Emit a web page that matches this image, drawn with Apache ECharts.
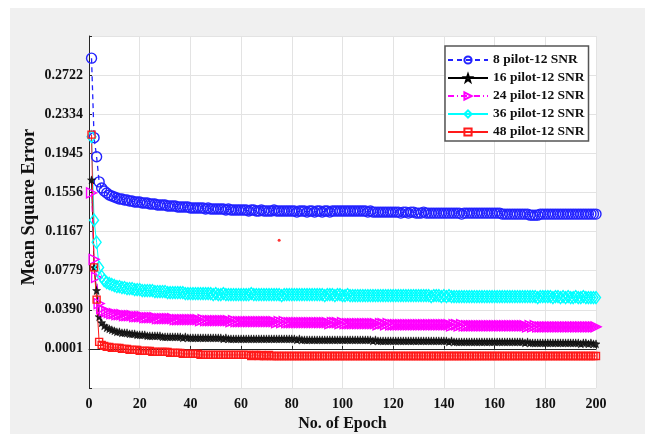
<!DOCTYPE html>
<html>
<head>
<meta charset="utf-8">
<script src="https://cdn.jsdelivr.net/npm/echarts@6/dist/echarts.min.js"></script>
<style>
  html, body { margin: 0; padding: 0; background: #fff; }
  #panel { position: absolute; left: 10px; top: 8px; width: 635px; height: 426px; background: #f0f0f0; }
  #chart { position: absolute; left: 0; top: 0; width: 645px; height: 437px; }
</style>
</head>
<body>
<div id="panel"></div>
<div id="chart"></div>
<script>
// series names as in the legend
const seriesNames = ['8 pilot-12 SNR', '16 pilot-12 SNR', '24 pilot-12 SNR', '36 pilot-12 SNR', '48 pilot-12 SNR'];

// y tick labels printed on the figure (axis runs from one step below 0.0001 to one step above 0.2722)
const yTickLabels = ['0.0001', '0.0390', '0.0779', '0.1167', '0.1556', '0.1945', '0.2334', '0.2722'];

// MSE per epoch (epoch 1..200)
const pilot8 = [
  0.289, 0.210, 0.191, 0.166, 0.160, 0.157, 0.155, 0.153, 0.152, 0.151,
  0.150, 0.149, 0.149, 0.148, 0.148, 0.147, 0.147, 0.146, 0.146, 0.146,
  0.145, 0.145, 0.145, 0.144, 0.144, 0.144, 0.143, 0.143, 0.143, 0.143,
  0.142, 0.142, 0.142, 0.142, 0.141, 0.141, 0.141, 0.141, 0.141, 0.140,
  0.140, 0.140, 0.140, 0.140, 0.140, 0.139, 0.140, 0.139, 0.139, 0.139,
  0.139, 0.139, 0.139, 0.138, 0.139, 0.138, 0.138, 0.138, 0.138, 0.138,
  0.138, 0.138, 0.137, 0.138, 0.138, 0.137, 0.137, 0.138, 0.137, 0.137,
  0.137, 0.137, 0.138, 0.137, 0.137, 0.137, 0.137, 0.137, 0.137, 0.137,
  0.137, 0.136, 0.137, 0.137, 0.137, 0.136, 0.137, 0.137, 0.136, 0.137,
  0.137, 0.136, 0.137, 0.137, 0.136, 0.137, 0.137, 0.137, 0.137, 0.137,
  0.137, 0.137, 0.137, 0.137, 0.137, 0.137, 0.137, 0.137, 0.137, 0.136,
  0.137, 0.136, 0.136, 0.136, 0.136, 0.136, 0.136, 0.136, 0.136, 0.136,
  0.136, 0.136, 0.135, 0.136, 0.136, 0.135, 0.136, 0.136, 0.135, 0.135,
  0.135, 0.136, 0.135, 0.135, 0.135, 0.135, 0.135, 0.135, 0.135, 0.135,
  0.135, 0.135, 0.135, 0.135, 0.135, 0.135, 0.134, 0.135, 0.135, 0.135,
  0.135, 0.135, 0.135, 0.135, 0.135, 0.135, 0.135, 0.135, 0.135, 0.135,
  0.135, 0.135, 0.134, 0.134, 0.134, 0.134, 0.134, 0.134, 0.134, 0.134,
  0.134, 0.134, 0.134, 0.133, 0.133, 0.133, 0.133, 0.134, 0.134, 0.134,
  0.134, 0.134, 0.134, 0.134, 0.134, 0.134, 0.134, 0.134, 0.134, 0.134,
  0.134, 0.134, 0.134, 0.134, 0.134, 0.134, 0.134, 0.134, 0.134, 0.134
];
const pilot16 = [
  0.168, 0.081, 0.058, 0.032, 0.026, 0.023, 0.021, 0.020, 0.019, 0.018,
  0.017, 0.017, 0.016, 0.016, 0.016, 0.015, 0.015, 0.015, 0.014, 0.014,
  0.014, 0.014, 0.013, 0.013, 0.013, 0.013, 0.013, 0.013, 0.012, 0.012,
  0.012, 0.012, 0.012, 0.012, 0.012, 0.012, 0.011, 0.012, 0.011, 0.011,
  0.011, 0.011, 0.011, 0.011, 0.011, 0.011, 0.011, 0.011, 0.011, 0.011,
  0.011, 0.011, 0.010, 0.011, 0.010, 0.010, 0.010, 0.010, 0.010, 0.010,
  0.010, 0.010, 0.010, 0.010, 0.010, 0.010, 0.010, 0.010, 0.010, 0.010,
  0.010, 0.010, 0.010, 0.010, 0.010, 0.010, 0.010, 0.010, 0.010, 0.010,
  0.010, 0.009, 0.010, 0.009, 0.009, 0.009, 0.009, 0.009, 0.009, 0.009,
  0.009, 0.009, 0.009, 0.009, 0.009, 0.009, 0.009, 0.009, 0.009, 0.009,
  0.009, 0.009, 0.009, 0.009, 0.009, 0.009, 0.009, 0.009, 0.009, 0.009,
  0.009, 0.008, 0.009, 0.008, 0.008, 0.008, 0.008, 0.008, 0.008, 0.008,
  0.008, 0.008, 0.008, 0.008, 0.008, 0.008, 0.008, 0.008, 0.008, 0.008,
  0.008, 0.008, 0.008, 0.008, 0.008, 0.008, 0.008, 0.008, 0.008, 0.008,
  0.008, 0.007, 0.008, 0.007, 0.007, 0.007, 0.007, 0.007, 0.007, 0.007,
  0.007, 0.007, 0.007, 0.007, 0.007, 0.007, 0.007, 0.007, 0.007, 0.007,
  0.007, 0.007, 0.007, 0.007, 0.007, 0.007, 0.007, 0.007, 0.007, 0.007,
  0.007, 0.006, 0.007, 0.006, 0.006, 0.006, 0.006, 0.006, 0.006, 0.006,
  0.006, 0.006, 0.006, 0.006, 0.006, 0.006, 0.006, 0.006, 0.006, 0.006,
  0.006, 0.006, 0.006, 0.005, 0.006, 0.006, 0.005, 0.006, 0.005, 0.005
];
const pilot24 = [
  0.155, 0.089, 0.071, 0.045, 0.040, 0.038, 0.037, 0.036, 0.035, 0.035,
  0.034, 0.034, 0.034, 0.033, 0.033, 0.033, 0.033, 0.032, 0.032, 0.032,
  0.032, 0.031, 0.031, 0.031, 0.031, 0.031, 0.030, 0.030, 0.030, 0.030,
  0.030, 0.030, 0.030, 0.029, 0.029, 0.029, 0.029, 0.029, 0.029, 0.029,
  0.029, 0.029, 0.029, 0.028, 0.029, 0.028, 0.028, 0.028, 0.028, 0.028,
  0.028, 0.028, 0.028, 0.028, 0.028, 0.027, 0.028, 0.027, 0.027, 0.027,
  0.027, 0.027, 0.027, 0.027, 0.027, 0.027, 0.027, 0.027, 0.027, 0.027,
  0.027, 0.027, 0.027, 0.026, 0.027, 0.026, 0.027, 0.026, 0.026, 0.026,
  0.026, 0.026, 0.026, 0.026, 0.026, 0.026, 0.026, 0.026, 0.026, 0.026,
  0.026, 0.026, 0.026, 0.026, 0.025, 0.026, 0.026, 0.026, 0.025, 0.026,
  0.025, 0.025, 0.025, 0.025, 0.025, 0.025, 0.025, 0.025, 0.025, 0.025,
  0.025, 0.025, 0.025, 0.024, 0.025, 0.025, 0.024, 0.025, 0.024, 0.024,
  0.024, 0.024, 0.024, 0.024, 0.024, 0.024, 0.024, 0.024, 0.024, 0.024,
  0.024, 0.024, 0.024, 0.024, 0.024, 0.024, 0.024, 0.024, 0.024, 0.024,
  0.024, 0.024, 0.023, 0.024, 0.024, 0.023, 0.024, 0.023, 0.023, 0.023,
  0.023, 0.023, 0.023, 0.023, 0.023, 0.023, 0.023, 0.023, 0.023, 0.023,
  0.023, 0.023, 0.023, 0.023, 0.023, 0.023, 0.023, 0.023, 0.023, 0.023,
  0.023, 0.023, 0.022, 0.023, 0.022, 0.023, 0.022, 0.022, 0.022, 0.022,
  0.022, 0.022, 0.022, 0.022, 0.022, 0.022, 0.022, 0.022, 0.022, 0.022,
  0.022, 0.022, 0.022, 0.022, 0.022, 0.022, 0.022, 0.022, 0.022, 0.022
];
const pilot36 = [
  0.211, 0.128, 0.106, 0.081, 0.072, 0.068, 0.066, 0.065, 0.064, 0.063,
  0.062, 0.062, 0.061, 0.061, 0.060, 0.060, 0.060, 0.059, 0.059, 0.059,
  0.058, 0.058, 0.058, 0.058, 0.058, 0.057, 0.057, 0.057, 0.057, 0.057,
  0.056, 0.056, 0.056, 0.056, 0.056, 0.056, 0.056, 0.055, 0.055, 0.055,
  0.055, 0.055, 0.055, 0.055, 0.055, 0.055, 0.055, 0.055, 0.054, 0.055,
  0.054, 0.054, 0.055, 0.054, 0.054, 0.054, 0.054, 0.054, 0.054, 0.054,
  0.054, 0.054, 0.054, 0.055, 0.054, 0.054, 0.054, 0.054, 0.054, 0.054,
  0.054, 0.054, 0.054, 0.054, 0.054, 0.053, 0.054, 0.054, 0.054, 0.054,
  0.054, 0.054, 0.054, 0.054, 0.054, 0.054, 0.054, 0.054, 0.054, 0.054,
  0.054, 0.054, 0.053, 0.054, 0.054, 0.054, 0.053, 0.054, 0.054, 0.053,
  0.053, 0.054, 0.053, 0.053, 0.053, 0.053, 0.053, 0.053, 0.053, 0.053,
  0.053, 0.053, 0.053, 0.053, 0.053, 0.053, 0.053, 0.053, 0.053, 0.053,
  0.053, 0.053, 0.053, 0.053, 0.053, 0.053, 0.053, 0.053, 0.053, 0.053,
  0.053, 0.053, 0.053, 0.053, 0.052, 0.053, 0.053, 0.053, 0.052, 0.053,
  0.052, 0.053, 0.052, 0.052, 0.052, 0.052, 0.052, 0.052, 0.052, 0.052,
  0.052, 0.052, 0.052, 0.052, 0.052, 0.052, 0.052, 0.052, 0.052, 0.052,
  0.052, 0.052, 0.052, 0.052, 0.052, 0.052, 0.052, 0.052, 0.052, 0.052,
  0.052, 0.052, 0.052, 0.052, 0.052, 0.052, 0.051, 0.052, 0.052, 0.052,
  0.052, 0.052, 0.051, 0.052, 0.052, 0.051, 0.052, 0.051, 0.052, 0.051,
  0.051, 0.052, 0.051, 0.051, 0.052, 0.051, 0.051, 0.051, 0.051, 0.051
];
const pilot48 = [
  0.213, 0.081, 0.049, 0.007, 0.004, 0.003, 0.002, 0.002, 0.001, 0.001,
  0.001, 0.001, 0.000, 0.000, 0.000, -0.001, -0.001, -0.001, -0.001, -0.002,
  -0.002, -0.002, -0.002, -0.002, -0.003, -0.003, -0.003, -0.003, -0.003, -0.003,
  -0.003, -0.004, -0.004, -0.004, -0.004, -0.004, -0.005, -0.005, -0.005, -0.005,
  -0.005, -0.005, -0.005, -0.006, -0.006, -0.006, -0.006, -0.006, -0.006, -0.006,
  -0.006, -0.006, -0.006, -0.006, -0.006, -0.006, -0.006, -0.006, -0.006, -0.006,
  -0.006, -0.006, -0.006, -0.007, -0.006, -0.006, -0.007, -0.006, -0.007, -0.007,
  -0.006, -0.007, -0.007, -0.007, -0.007, -0.007, -0.007, -0.007, -0.007, -0.007,
  -0.007, -0.007, -0.007, -0.007, -0.007, -0.007, -0.007, -0.007, -0.007, -0.007,
  -0.007, -0.007, -0.007, -0.007, -0.007, -0.007, -0.007, -0.007, -0.007, -0.007,
  -0.007, -0.007, -0.007, -0.007, -0.007, -0.007, -0.007, -0.007, -0.007, -0.007,
  -0.007, -0.007, -0.007, -0.007, -0.007, -0.007, -0.007, -0.007, -0.007, -0.007,
  -0.007, -0.007, -0.007, -0.007, -0.007, -0.007, -0.007, -0.007, -0.007, -0.007,
  -0.007, -0.007, -0.007, -0.007, -0.007, -0.007, -0.007, -0.007, -0.007, -0.007,
  -0.007, -0.007, -0.007, -0.007, -0.007, -0.007, -0.007, -0.007, -0.007, -0.007,
  -0.007, -0.007, -0.007, -0.007, -0.007, -0.007, -0.007, -0.007, -0.007, -0.007,
  -0.007, -0.007, -0.007, -0.007, -0.007, -0.007, -0.007, -0.007, -0.007, -0.007,
  -0.007, -0.007, -0.007, -0.007, -0.007, -0.007, -0.007, -0.007, -0.007, -0.007,
  -0.007, -0.007, -0.007, -0.007, -0.007, -0.007, -0.007, -0.007, -0.007, -0.007,
  -0.007, -0.007, -0.007, -0.007, -0.007, -0.007, -0.007, -0.007, -0.007, -0.007
];

// the single stray red point in the middle of the plot
const strayPoint = [[75, 0.108]];

const yStep = 0.03888;
const serif = 'Liberation Serif';
const starPath = 'path://M0,-10L2.35,-3.24L9.51,-3.09L3.8,1.24L5.88,8.09L0,4L-5.88,8.09L-3.8,1.24L-9.51,-3.09L-2.35,-3.24Z';

const toPairs = (values) => values.map((v, i) => [i + 1, v]);

const lineSeries = (name, values, color, symbol, size, lineType, extra) => Object.assign({
  name: name,
  type: 'line',
  data: toPairs(values),
  symbol: symbol,
  symbolSize: size,
  showAllSymbol: true,
  lineStyle: { color: color, width: 1, type: lineType },
  itemStyle: { color: 'rgba(0,0,0,0)', borderColor: color, borderWidth: 1.4 },
  emphasis: { disabled: true },
}, extra || {});

const chart = echarts.init(document.getElementById('chart'));

chart.setOption({
  animation: false,
  backgroundColor: 'transparent',
  grid: {
    left: 89,
    right: 49,
    top: 36,
    bottom: 46,
    show: true,
    backgroundColor: '#ffffff',
    borderWidth: 0,
  },
  legend: {
    data: seriesNames,
    orient: 'vertical',
    left: 445,
    top: 46,
    itemWidth: 40,
    itemHeight: 9,
    itemGap: 4,
    padding: [7, 4, 2, 2],
    backgroundColor: '#ffffff',
    borderColor: '#555555',
    borderWidth: 1.5,
    textStyle: { fontFamily: serif, fontWeight: 'bold', fontSize: 13.5, color: '#111' },
  },
  xAxis: {
    type: 'value',
    min: 0,
    max: 200,
    interval: 20,
    name: 'No. of Epoch',
    nameLocation: 'middle',
    nameGap: 28,
    nameTextStyle: { fontFamily: serif, fontWeight: 'bold', fontSize: 16, color: '#111' },
    axisLine: { lineStyle: { color: '#262626', width: 1 } },
    axisTick: { inside: true, length: 3, lineStyle: { color: '#262626' } },
    axisLabel: { fontFamily: serif, fontWeight: 'bold', fontSize: 14, color: '#111', margin: 9 },
    splitLine: { show: true, lineStyle: { color: '#e3e3e3', width: 1 } },
  },
  yAxis: {
    type: 'value',
    min: -yStep,
    max: 8 * yStep,
    interval: yStep,
    name: 'Mean Square Error',
    nameLocation: 'middle',
    nameGap: 50,
    nameMoveOverlap: false,
    nameTextStyle: { fontFamily: serif, fontWeight: 'bold', fontSize: 18.5, color: '#111', padding: [0, 0, 0, 10] },
    axisLine: { show: true, lineStyle: { color: '#262626', width: 1 } },
    axisTick: { show: true, inside: true, length: 3, lineStyle: { color: '#262626' } },
    axisLabel: {
      fontFamily: serif, fontWeight: 'bold', fontSize: 14, color: '#111', margin: 6,
      formatter: (v) => yTickLabels[Math.round(v / yStep)] || '',
    },
    splitLine: { show: true, lineStyle: { color: '#e3e3e3', width: 1 } },
  },
  series: [
    lineSeries(seriesNames[0], pilot8, '#2222ff', 'circle', 10, 'dashed', { lineStyle: { color: '#2222ff', width: 1.3, type: [5, 4] } }),
    lineSeries(seriesNames[1], pilot16, '#000000', starPath, 8, 'solid', { itemStyle: { color: '#222', borderColor: '#000', borderWidth: 0.5 } }),
    lineSeries(seriesNames[2], pilot24, '#ff00ff', 'triangle', 10, [6, 3, 1, 3], { symbolRotate: -90 }),
    lineSeries(seriesNames[3], pilot36, '#00ffff', 'diamond', [9, 12], 'solid'),
    lineSeries(seriesNames[4], pilot48, '#ff1a1a', 'rect', 7, 'solid'),
    {
      type: 'scatter',
      data: strayPoint,
      symbol: 'circle',
      symbolSize: 3,
      itemStyle: { color: '#ff0000' },
      emphasis: { disabled: true },
    },
  ],
});
</script>
</body>
</html>
